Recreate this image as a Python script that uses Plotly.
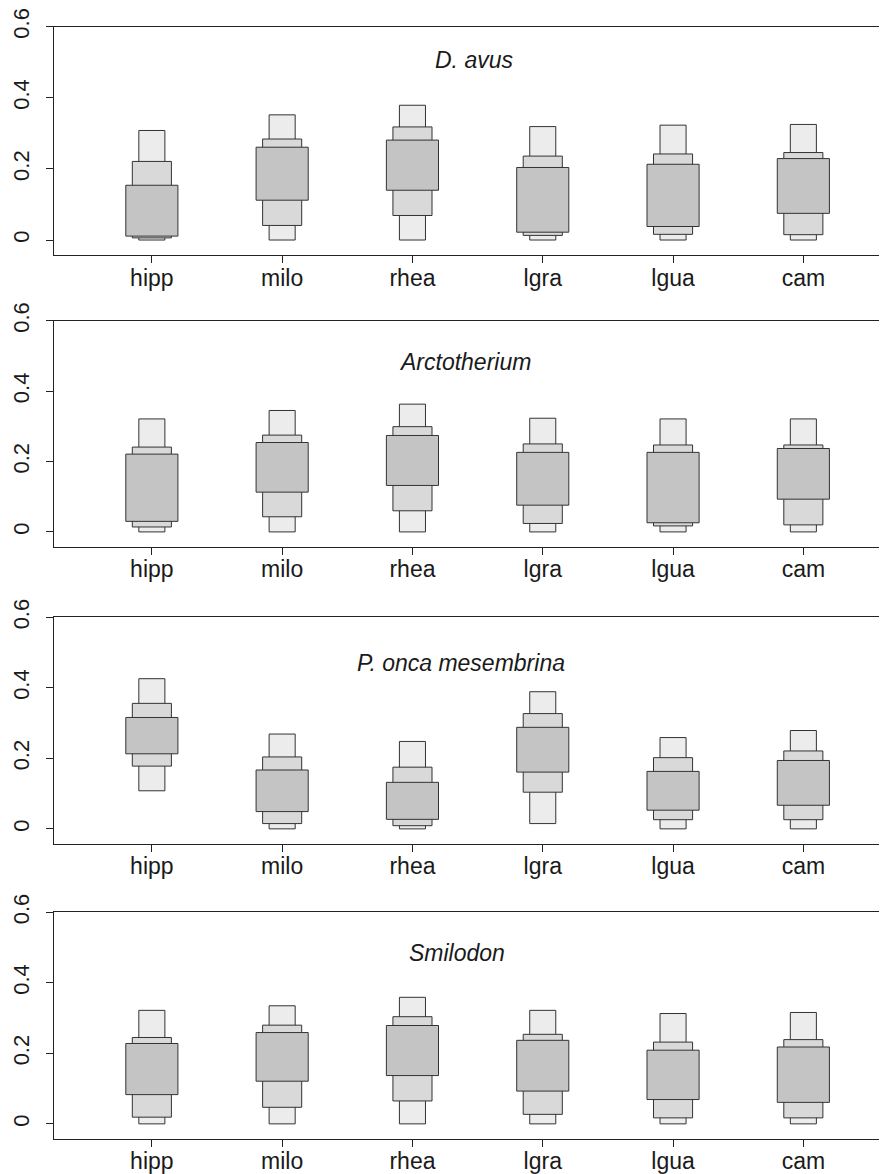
import plotly.graph_objects as go

categories = ["hipp", "milo", "rhea", "lgra", "lgua", "cam"]
species = ["D. avus", "Arctotherium", "P. onca mesembrina", "Smilodon"]

# D. avus
davus_lo95 = [0.000, 0.000, 0.000, 0.000, 0.000, 0.000]
davus_hi95 = [0.308, 0.352, 0.379, 0.319, 0.323, 0.325]
davus_lo75 = [0.006, 0.041, 0.069, 0.013, 0.016, 0.015]
davus_hi75 = [0.221, 0.284, 0.318, 0.236, 0.242, 0.246]
davus_lo50 = [0.011, 0.112, 0.140, 0.022, 0.038, 0.075]
davus_hi50 = [0.154, 0.261, 0.281, 0.204, 0.213, 0.229]

# Arctotherium
arct_lo95 = [0.000, 0.000, 0.000, 0.000, 0.000, 0.000]
arct_hi95 = [0.321, 0.345, 0.363, 0.323, 0.321, 0.321]
arct_lo75 = [0.014, 0.043, 0.060, 0.024, 0.017, 0.020]
arct_hi75 = [0.241, 0.275, 0.299, 0.250, 0.247, 0.247]
arct_lo50 = [0.030, 0.113, 0.132, 0.076, 0.026, 0.093]
arct_hi50 = [0.221, 0.254, 0.274, 0.226, 0.226, 0.237]

# P. onca mesembrina
ponca_lo95 = [0.108, 0.000, 0.000, 0.015, 0.000, 0.000]
ponca_hi95 = [0.426, 0.269, 0.248, 0.389, 0.259, 0.279]
ponca_lo75 = [0.178, 0.015, 0.009, 0.104, 0.026, 0.026]
ponca_hi75 = [0.356, 0.204, 0.175, 0.327, 0.202, 0.221]
ponca_lo50 = [0.213, 0.049, 0.027, 0.161, 0.053, 0.067]
ponca_hi50 = [0.316, 0.167, 0.132, 0.288, 0.163, 0.194]

# Smilodon
smil_lo95 = [0.000, 0.000, 0.000, 0.000, 0.000, 0.000]
smil_hi95 = [0.322, 0.335, 0.359, 0.322, 0.313, 0.316]
smil_lo75 = [0.019, 0.047, 0.065, 0.027, 0.017, 0.017]
smil_hi75 = [0.245, 0.280, 0.304, 0.254, 0.232, 0.239]
smil_lo50 = [0.083, 0.121, 0.137, 0.093, 0.069, 0.061]
smil_hi50 = [0.228, 0.259, 0.279, 0.237, 0.209, 0.218]

panels = [
    (davus_lo95, davus_hi95, davus_lo75, davus_hi75, davus_lo50, davus_hi50),
    (arct_lo95, arct_hi95, arct_lo75, arct_hi75, arct_lo50, arct_hi50),
    (ponca_lo95, ponca_hi95, ponca_lo75, ponca_hi75, ponca_lo50, ponca_hi50),
    (smil_lo95, smil_hi95, smil_lo75, smil_hi75, smil_lo50, smil_hi50),
]

y_ticks = [0, 0.2, 0.4, 0.6]
y_ticktext = ["0", "0.2", "0.4", "0.6"]

domains = [[0.7882, 0.9840], [0.5380, 0.7318], [0.2833, 0.4774], [0.0303, 0.2244]]
title_pos = [(3.47, 0.505), (3.40, 0.482), (3.37, 0.470), (3.34, 0.486)]

fills = {"95": "#ececec", "75": "#d9d9d9", "50": "#c4c4c4"}
widths = {"95": 0.2, "75": 0.3, "50": 0.4}
edge = "#333333"
font_family = "Liberation Sans, Arial, Helvetica, sans-serif"

xs = [i + 1 for i in range(len(categories))]

fig = go.Figure()
layout = dict(
    width=879, height=1166,
    margin=dict(l=46, r=0, t=0, b=0),
    paper_bgcolor="white", plot_bgcolor="white",
    barmode="overlay", showlegend=False,
    font=dict(family=font_family, size=23, color="#1a1a1a"),
)
annotations = []
for p, (lo95, hi95, lo75, hi75, lo50, hi50) in enumerate(panels):
    ax = "" if p == 0 else str(p + 1)
    for key, lo, hi in (("95", lo95, hi95), ("75", lo75, hi75), ("50", lo50, hi50)):
        fig.add_trace(go.Bar(
            x=xs, y=[h - l for h, l in zip(hi, lo)], base=lo,
            width=widths[key],
            marker=dict(color=fills[key], line=dict(color=edge, width=1)),
            xaxis="x" + ax, yaxis="y" + ax, hoverinfo="skip",
        ))
    layout["xaxis" + ax] = dict(
        domain=[0, 1], anchor="y" + ax, range=[0.249, 6.642],
        tickvals=xs, ticktext=categories, ticks="outside", ticklen=7,
        tickcolor="#222", showline=True, linecolor="#222", linewidth=1,
        mirror=True, showgrid=False, zeroline=False, automargin=False,
        ticklabelstandoff=-5,
        tickfont=dict(size=23, family=font_family, color="#1a1a1a"),
    )
    layout["yaxis" + ax] = dict(
        domain=domains[p], anchor="x" + ax, range=[-0.042, 0.6],
        tickvals=y_ticks, ticktext=y_ticktext, ticks="outside", ticklen=7,
        tickcolor="#222", tickangle=-90, showline=True, linecolor="#222",
        linewidth=1, showgrid=False, zeroline=False, automargin=False,
        ticklabelstandoff=8,
        tickfont=dict(size=22, family=font_family, color="#1a1a1a"),
    )
    tx, ty = title_pos[p]
    annotations.append(dict(
        x=tx, y=ty, xref="x" + ax, yref="y" + ax, text="<i>" + species[p] + "</i>",
        showarrow=False, font=dict(size=23, family=font_family, color="#1a1a1a"),
        xanchor="center", yanchor="middle",
    ))
layout["annotations"] = annotations
fig.update_layout(**layout)
fig.write_html("out.html")
